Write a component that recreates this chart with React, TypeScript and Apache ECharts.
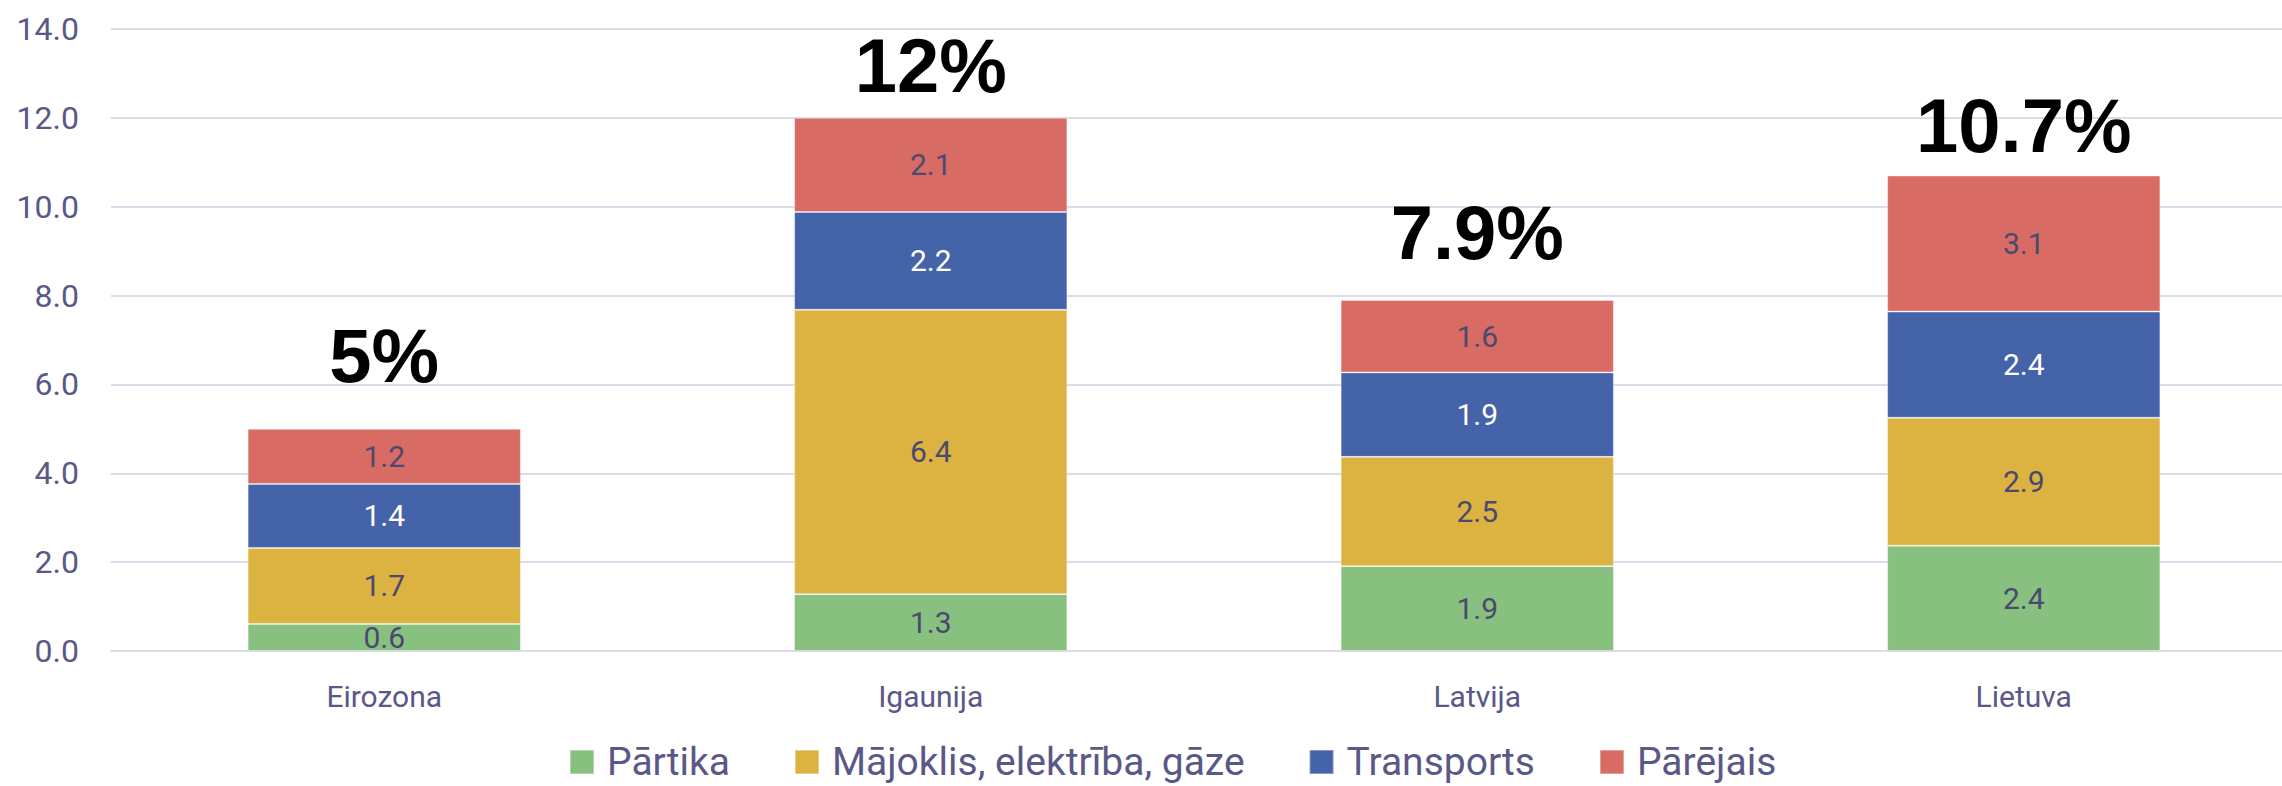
import React, { useEffect, useRef } from "react";
import * as echarts from "echarts";

const categories = ["Eirozona", "Igaunija", "Latvija", "Lietuva"];
const partika = [0.61, 1.28, 1.91, 2.37];
const majoklis = [1.71, 6.4, 2.46, 2.88];
const transports = [1.44, 2.2, 1.9, 2.39];
const parejais = [1.24, 2.12, 1.63, 3.06];
const totals = [5, 12, 7.9, 10.7];
const seriesNames = ["Pārtika", "Mājoklis, elektrība, gāze", "Transports", "Pārējais"];

const totalLabelDistance = [35, 14, 30, 12];

const FONT = "Roboto";
const AXIS_COLOR = "#5a5887";
const LABEL_COLOR = "#4a4970";
const GRID_COLOR = "#dcdbe9";

export default function App() {
  const ref = useRef<HTMLDivElement>(null);
  useEffect(() => {
    if (!ref.current) return;
    const chart = echarts.init(ref.current, null, { renderer: "svg" });
    const colors = ["#88c080", "#dcb240", "#4563a8", "#d86c64"];
    const values = [partika, majoklis, transports, parejais];
    const barSeries = values.map((vals, i) => ({
      name: seriesNames[i],
      type: "bar",
      stack: "total",
      barWidth: "50%",
      data: vals,
      itemStyle: {
        color: colors[i],
        borderColor: "rgba(255,255,255,0.35)",
        borderWidth: 1,
      },
      label: {
        show: true,
        position: "inside",
        fontFamily: FONT,
        fontSize: 30,
        color: i === 2 ? "#ffffff" : LABEL_COLOR,
        formatter: (p: any) => Number(p.value).toFixed(1),
      },
    }));
    const totalLabelStyle = {
      show: true,
      position: "top",
      fontFamily: "Liberation Sans",
      fontWeight: "bold",
      fontSize: 76,
      color: "#000000",
      opacity: 1,
      textBorderWidth: 0,
      formatter: (p: any) => `${p.value}%`,
    };
    chart.setOption({
      animation: false,
      backgroundColor: "#ffffff",
      grid: {
        left: 111,
        top: 29,
        width: 2186,
        bottom: 135,
        containLabel: false,
        outerBoundsMode: "none",
      },
      legend: {
        data: seriesNames,
        left: 564,
        top: 737,
        icon: "rect",
        itemWidth: 24,
        itemHeight: 24,
        itemGap: 64,
        textStyle: {
          fontFamily: FONT,
          fontSize: 39,
          lineHeight: 40,
          color: AXIS_COLOR,
          padding: [0, 0, 0, 8],
        },
      },
      xAxis: {
        type: "category",
        data: categories,
        axisLine: { show: true, lineStyle: { color: GRID_COLOR, width: 2 } },
        axisTick: { show: false },
        axisLabel: { fontFamily: FONT, fontSize: 30, color: AXIS_COLOR, margin: 30 },
      },
      yAxis: {
        type: "value",
        min: 0,
        max: 14,
        interval: 2,
        axisLine: { show: false },
        axisTick: { show: false },
        splitLine: { lineStyle: { color: GRID_COLOR, width: 2 } },
        axisLabel: {
          fontFamily: FONT,
          fontSize: 32,
          color: AXIS_COLOR,
          margin: 32,
          formatter: (v: number) => v.toFixed(1),
        },
      },
      series: [
        ...barSeries,
        {
          name: "total",
          type: "scatter",
          symbolSize: 0,
          silent: true,
          itemStyle: { color: "#000000", opacity: 1 },
          data: totals.map((v, i) => ({
            value: v,
            label: { ...totalLabelStyle, distance: totalLabelDistance[i] },
          })),
          label: totalLabelStyle,
        },
      ],
    });
    return () => chart.dispose();
  }, []);
  return (
    <div
      ref={ref}
      style={{ position: "fixed", left: 0, top: 0, width: 2282, height: 786 }}
    />
  );
}
